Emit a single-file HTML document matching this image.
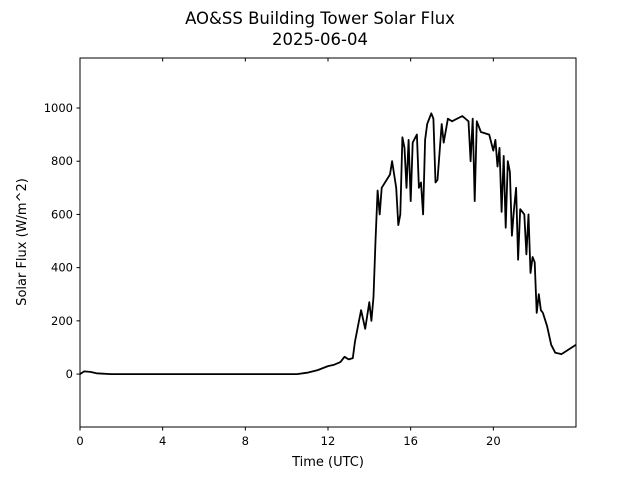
<!DOCTYPE html>
<html><head><meta charset="utf-8"><style>
body{margin:0;background:#fff}
svg{display:block;font-family:"DejaVu Sans","Liberation Sans",sans-serif}
</style></head><body>
<svg id="chart" width="640" height="480" viewBox="0 0 640 480">
<rect width="640" height="480" fill="#fff"/>
<text x="320" y="24" text-anchor="middle" font-size="16.5">AO&amp;SS Building Tower Solar Flux</text>
<text x="320" y="45" text-anchor="middle" font-size="16.5">2025-06-04</text>
<g id="ticks"></g>
<polyline id="line" fill="none" stroke="#000" stroke-width="1.8" stroke-linejoin="round"/>
<rect x="80" y="58" width="496" height="369" fill="none" stroke="#000" stroke-width="1"/>
<text x="328" y="466" text-anchor="middle" font-size="13">Time (UTC)</text>
<text transform="translate(26,242) rotate(-90)" text-anchor="middle" font-size="13">Solar Flux (W/m^2)</text>
</svg>
<script>
const hours=[0,0.2,0.5,0.8,1.5,5,10.5,11,11.5,12,12.3,12.6,12.8,13,13.2,13.3,13.5,13.6,13.8,14,14.1,14.2,14.3,14.4,14.5,14.6,15,15.1,15.3,15.4,15.5,15.6,15.7,15.8,15.9,16,16.1,16.3,16.4,16.5,16.6,16.7,16.8,17,17.1,17.2,17.3,17.5,17.6,17.8,18,18.5,18.8,18.9,19,19.1,19.2,19.4,19.8,20,20.1,20.2,20.3,20.4,20.5,20.6,20.7,20.8,20.9,21,21.1,21.2,21.3,21.5,21.6,21.7,21.8,21.9,22,22.1,22.2,22.3,22.4,22.6,22.8,23,23.3,23.6,24];
const flux=[0,10,8,3,0,0,0,5,15,30,35,45,65,55,60,120,200,240,170,270,200,290,500,690,600,700,750,800,700,560,600,890,850,700,880,650,870,900,700,720,600,880,940,980,960,720,730,940,870,960,950,970,950,800,960,650,950,910,900,840,880,780,850,610,820,550,800,760,520,620,700,430,620,600,450,600,380,440,420,230,300,240,230,180,110,80,75,90,110];
const xTicks=[0,4,8,12,16,20];
const yTicks=[0,200,400,600,800,1000];
const X0=80,X1=576,Y0=427,Y1=58,xmin=0,xmax=24,ymin=-199,ymax=1188;
const sx=v=>X0+(v-xmin)/(xmax-xmin)*(X1-X0);
const sy=v=>Y0-(v-ymin)/(ymax-ymin)*(Y0-Y1);
const NS="http://www.w3.org/2000/svg";
document.getElementById('line').setAttribute('points',hours.map((h,i)=>sx(h).toFixed(1)+','+sy(flux[i]).toFixed(1)).join(' '));
const g=document.getElementById('ticks');
function mk(tag,a){const e=document.createElementNS(NS,tag);for(const k in a)e.setAttribute(k,a[k]);g.appendChild(e);return e;}
xTicks.forEach(t=>{
  const x=sx(t);
  const b=mk('line',{x1:x,x2:x,y1:Y0,y2:Y0+3.5,stroke:'#000'});
  
  
  const tp=mk('line',{x1:x,x2:x,y1:Y1,y2:Y1+3.5,stroke:'#000'});
  
  
  const l=mk('text',{x:x,y:Y0+18,'text-anchor':'middle','font-size':'11.5'});
  
  
  l.textContent=t;
});
yTicks.forEach(t=>{
  const y=sy(t);
  const tk=mk('line',{x1:X0-3.5,x2:X0,y1:y,y2:y,stroke:'#000'});
  
  
  const l=mk('text',{x:X0-7,y:y+4,'text-anchor':'end','font-size':'11.5'});
  
  
  l.textContent=t;
});
</script>
</body></html>
